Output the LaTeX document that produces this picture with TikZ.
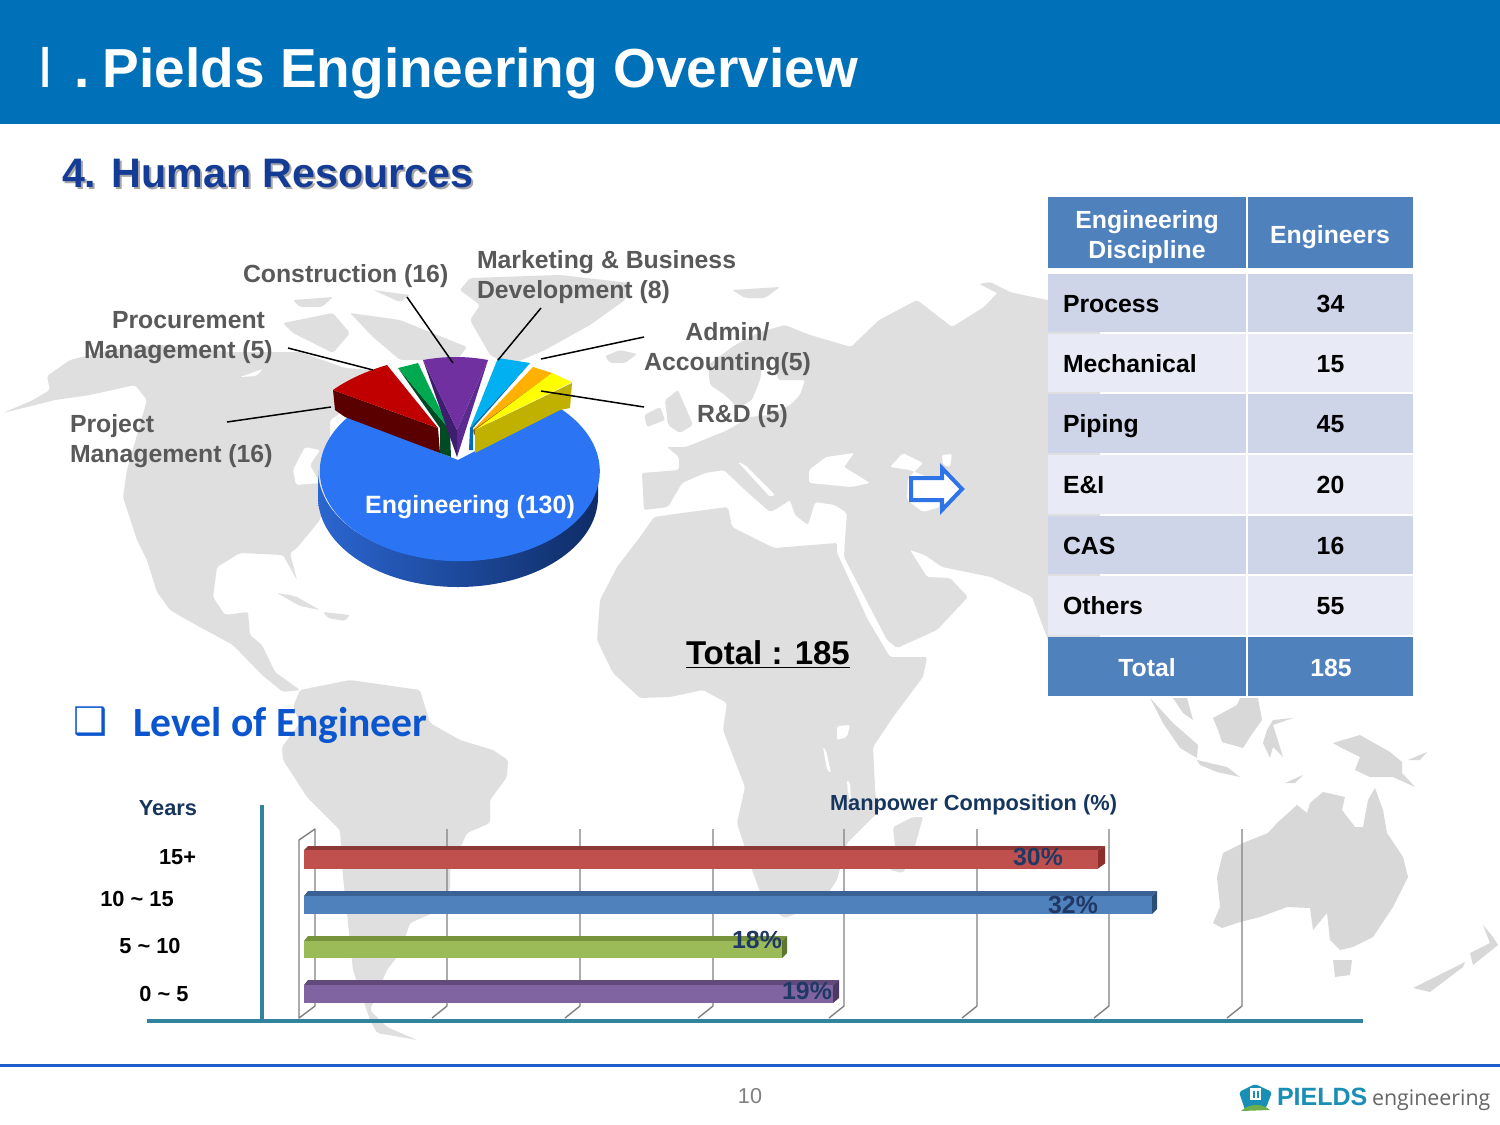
\documentclass[tikz,border=0pt]{standalone}
\usepackage{fontspec}
\setmainfont{Liberation Sans}
\newfontfamily\numfont{DejaVu Sans}
\newfontfamily\calfont{Carlito}
\newfontfamily\logofont{Open Sans}
\usetikzlibrary{calc,positioning}
\definecolor{headblue}{HTML}{0070B8}
\definecolor{subblue}{HTML}{143C96}
\definecolor{levelblue}{HTML}{0B55CF}
\definecolor{footblue}{HTML}{1F5FCC}
\definecolor{land}{HTML}{DFDFDF}
\definecolor{landdark}{HTML}{D8D8D8}
\definecolor{labelgray}{HTML}{595959}
\definecolor{navy}{HTML}{17365D}
\definecolor{pctnavy}{HTML}{1F3864}
\definecolor{teal}{HTML}{31849B}
\definecolor{gridgray}{HTML}{808080}
\definecolor{cellhead}{HTML}{4F81BD}
\definecolor{celldark}{HTML}{CFD5E8}
\definecolor{celllight}{HTML}{E8EBF5}
\definecolor{arrowblue}{HTML}{2F74E6}
\definecolor{cbRed}{HTML}{C0504D}
\definecolor{cbRedTop}{HTML}{8C3836}
\definecolor{cbRedSide}{HTML}{8C2E2C}
\definecolor{cbBlueTop}{HTML}{3A6193}
\definecolor{cbBlueSide}{HTML}{2C4D75}
\definecolor{cbGreen}{HTML}{9BBB59}
\definecolor{cbGreenTop}{HTML}{77933C}
\definecolor{cbGreenSide}{HTML}{5E7530}
\definecolor{cbPurple}{HTML}{8064A2}
\definecolor{cbPurpleTop}{HTML}{604A7B}
\definecolor{cbPurpleSide}{HTML}{4C3A63}
\definecolor{pieBlue}{HTML}{2B75F5}
\definecolor{pieBlueL}{HTML}{2B66D0}
\definecolor{pieBlueM}{HTML}{154290}
\definecolor{pieBlueR}{HTML}{0F2C66}
\definecolor{pieRed}{HTML}{C00000}
\definecolor{pieRedS}{HTML}{5A0000}
\definecolor{pieGreen}{HTML}{00A850}
\definecolor{pieGreenS}{HTML}{004A25}
\definecolor{piePurple}{HTML}{7030A0}
\definecolor{piePurpleL}{HTML}{3E1C70}
\definecolor{piePurpleR}{HTML}{5A2A90}
\definecolor{pieCyan}{HTML}{00B0F0}
\definecolor{pieCyanS}{HTML}{0070B0}
\definecolor{pieOrange}{HTML}{FFB000}
\definecolor{pieOrangeS}{HTML}{A06000}
\definecolor{pieYellow}{HTML}{FFFF00}
\definecolor{pieYellowS}{HTML}{C0B000}
\definecolor{logoTeal}{HTML}{1A8FB5}
\definecolor{logoGreen}{HTML}{6DB04B}
\definecolor{logoGray}{HTML}{666666}
\tikzset{
  mapland/.style={fill=land, rounded corners=1pt},
  maphole/.style={fill=white, rounded corners=1pt},
  txt/.style={inner sep=0pt, outer sep=0pt},
  pielabel/.style={txt, text=labelgray, font=\fontsize{12.4}{15}\selectfont\bfseries},
  leader/.style={black, line width=0.75pt},
  tablecell/.style={txt, text=black, font=\fontsize{12.4}{15}\selectfont\bfseries},
  tablehead/.style={txt, text=white, font=\fontsize{12.4}{15}\selectfont\bfseries, align=center},
  yearlabel/.style={txt, text=black, font=\fontsize{10.9}{13}\selectfont\bfseries},
  pctlabel/.style={txt, text=pctnavy, font=\fontsize{12.4}{15}\selectfont\bfseries},
  gridline/.style={gridgray, line width=0.7pt}
}
% bar: #1 front colour, #2 top colour, #3 side colour, #4 strip top y, #5 front top y, #6 bottom y, #7 front end x, #8 side end x
\newcommand{\ChartBar}[8]{%
  \fill[#2] (304,#5) -- (308,#4) -- (#8,#4) -- (#7,#5) -- cycle;
  \fill[#3] (#7,#5) -- (#8,#4) -- (#8,#6-5) -- (#7,#6) -- cycle;
  \fill[#1] (304,#5) rectangle (#7,#6);
}
\begin{document}
\begin{tikzpicture}[x=0.5pt, y=-0.5pt, line join=round]
  \useasboundingbox (0,0) rectangle (1500,1125);
  \fill[white] (0,0) rectangle (1500,1125);

  % world map
  % north america
  \fill[mapland] (3,413) -- (33,400) -- (50,390) -- (47,376) -- (70,360) -- (110,350) -- (160,345) -- (230,352) -- (262,352) -- (300,352) -- (345,368) -- (372,370) -- (360,400) -- (330,420) -- (330,480) -- (320,520) -- (297,548) -- (290,553) -- (297,580) -- (283,555) -- (240,553) -- (217,567) -- (213,597) -- (225,615) -- (248,612) -- (250,635) -- (262,645) -- (275,672) -- (300,690) -- (283,692) -- (262,675) -- (233,645) -- (187,620) -- (170,610) -- (157,592) -- (147,560) -- (137,540) -- (123,497) -- (127,470) -- (147,400) -- (135,385) -- (90,395) -- (55,400) -- cycle;
  \fill[maphole] (240,377) -- (263,369) -- (256,376) -- cycle;
  \fill[maphole] (293,470) -- (305,447) -- (320,450) -- (310,465) -- (320,483) -- (296,485) -- cycle;
  % arctic islands
  \fill[mapland] (283,323) -- (333,313) -- (350,333) -- (333,353) -- (293,333) -- cycle;
  \fill[mapland] (350,313) -- (400,320) -- (467,347) -- (457,360) -- (400,360) -- (373,337) -- cycle;
  \fill[mapland] (293,300) -- (333,297) -- (322,307) -- (300,307) -- cycle;
  \fill[mapland] (373,290) -- (410,295) -- (400,302) -- cycle;
  % greenland, iceland
  \fill[mapland] (460,290) -- (470,278) -- (560,275) -- (630,283) -- (625,300) -- (590,325) -- (545,350) -- (510,365) -- (490,355) -- (470,320) -- (480,305) -- cycle;
  \fill[mapland] (605,356) -- (620,350) -- (637,354) -- (625,363) -- (610,363) -- cycle;
  % caribbean
  \fill[mapland] (277,593) -- (295,596) -- (320,610) -- (300,606) -- cycle;
  \fill[mapland] (323,612) -- (350,615) -- (345,621) -- (328,618) -- cycle;
  % south america
  \fill[mapland] (300,690) -- (350,680) -- (420,690) -- (430,723) -- (460,740) -- (493,750) -- (508,760) -- (507,777) -- (490,800) -- (490,823) -- (467,833) -- (450,870) -- (450,890) -- (433,913) -- (410,923) -- (400,953) -- (387,970) -- (370,1010) -- (387,1027) -- (417,1040) -- (377,1033) -- (370,1020) -- (353,970) -- (348,923) -- (343,877) -- (340,830) -- (307,797) -- (283,760) -- (282,747) -- (300,723) -- (293,707) -- cycle;
  % eurasia
  \fill[mapland] (644,510) -- (642,473) -- (679,470) -- (679,457) -- (667,447) -- (686,447) -- (728,430) -- (749,417) -- (770,415) -- (790,405) -- (800,395) -- (805,380) -- (778,380) -- (775,362) -- (770,355) -- (763,362) -- (760,380) -- (752,400) -- (738,408) -- (725,395) -- (710,385) -- (708,365) -- (735,345) -- (760,332) -- (785,325) -- (810,335) -- (851,347) -- (879,320) -- (917,300) -- (952,327) -- (984,307) -- (1000,290) -- (1047,300) -- (1100,290) -- (1100,690) -- (1060,670) -- (1048,640) -- (1032,597) -- (991,577) -- (942,567) -- (925,555) -- (910,550) -- (927,577) -- (950,578) -- (968,597) -- (937,630) -- (897,648) -- (887,640) -- (844,557) -- (845,540) -- (847,513) -- (835,505) -- (815,502) -- (808,525) -- (795,515) -- (790,500) -- (778,508) -- (770,512) -- (745,490) -- (724,470) -- (705,473) -- (682,483) -- (668,507) -- cycle;
  \fill[maphole] (738,462) -- (745,465) -- (775,495) -- (770,497) -- cycle;
  \fill[maphole] (809,470) -- (826,457) -- (854,453) -- (844,467) -- (870,483) -- (851,487) -- (809,483) -- cycle;
  \fill[maphole] (890,467) -- (903,453) -- (923,463) -- (908,478) -- (907,500) -- (923,512) -- (940,507) -- (935,480) -- (910,470) -- cycle;
  \fill[maphole] (942,455) -- (952,454) -- (950,467) -- (943,465) -- cycle;
  % british isles, arctic russia
  \fill[mapland] (665,400) -- (678,390) -- (693,425) -- (680,433) -- (668,425) -- cycle;
  \fill[mapland] (644,415) -- (660,407) -- (665,420) -- (647,427) -- cycle;
  \fill[mapland] (732,290) -- (780,287) -- (765,298) -- (745,298) -- cycle;
  \fill[mapland] (979,284) -- (990,282) -- (1016,295) -- (1005,297) -- cycle;
  % africa
  \fill[mapland] (640,537) -- (654,517) -- (682,513) -- (728,507) -- (732,527) -- (774,548) -- (837,543) -- (837,553) -- (868,620) -- (890,657) -- (927,657) -- (923,677) -- (893,717) -- (873,747) -- (875,787) -- (877,813) -- (847,843) -- (837,880) -- (820,905) -- (785,918) -- (765,905) -- (753,873) -- (737,823) -- (745,787) -- (723,730) -- (727,703) -- (703,690) -- (670,697) -- (640,698) -- (613,673) -- (597,640) -- (600,600) -- (617,567) -- cycle;
  \fill[maphole] (837,726) -- (850,725) -- (847,737) -- (837,740) -- cycle;
  \fill[maphole] (823,747) -- (826,750) -- (831,773) -- (827,770) -- cycle;
  \fill[maphole] (847,780) -- (850,782) -- (851,800) -- (848,796) -- cycle;
  % madagascar
  \fill[mapland] (893,827) -- (913,817) -- (923,817) -- (913,853) -- (903,873) -- (890,870) -- (895,847) -- cycle;
  % south east asia
  \fill[landdark] (1150,698) -- (1173,723) -- (1198,745) -- (1197,758) -- (1180,748) -- (1163,723) -- cycle;
  \fill[landdark] (1173,698) -- (1187,698) -- (1193,720) -- (1183,713) -- cycle;
  \fill[landdark] (1213,718) -- (1237,705) -- (1240,698) -- (1258,698) -- (1262,720) -- (1250,737) -- (1243,748) -- (1222,742) -- (1218,730) -- cycle;
  \fill[landdark] (1197,760) -- (1227,767) -- (1240,777) -- (1217,772) -- (1200,765) -- cycle;
  \fill[landdark] (1267,730) -- (1273,720) -- (1293,718) -- (1273,725) -- (1283,757) -- (1273,747) -- (1270,758) -- (1263,743) -- cycle;
  \fill[landdark] (1285,783) -- (1303,775) -- (1295,783) -- cycle;
  \fill[landdark] (1333,743) -- (1360,735) -- (1390,752) -- (1402,762) -- (1402,773) -- (1415,787) -- (1393,777) -- (1370,777) -- (1355,770) -- (1360,757) -- (1340,747) -- cycle;
  \fill[landdark] (1408,760) -- (1427,752) -- (1420,760) -- cycle;
  % australia, new zealand
  \fill[landdark] (1213,923) -- (1222,928) -- (1240,922) -- (1260,917) -- (1287,907) -- (1310,908) -- (1313,930) -- (1327,913) -- (1330,940) -- (1340,950) -- (1353,947) -- (1373,937) -- (1393,907) -- (1408,877) -- (1403,857) -- (1387,833) -- (1383,810) -- (1375,788) -- (1368,800) -- (1363,827) -- (1355,827) -- (1342,810) -- (1345,797) -- (1323,792) -- (1310,803) -- (1307,813) -- (1297,805) -- (1277,823) -- (1268,833) -- (1243,843) -- (1223,853) -- (1217,877) -- (1220,907) -- cycle;
  \fill[landdark] (1333,960) -- (1352,960) -- (1350,975) -- (1335,977) -- cycle;
  \fill[landdark] (1413,988) -- (1465,962) -- (1463,967) -- (1430,992) -- cycle;
  \fill[landdark] (1470,953) -- (1490,943) -- (1483,925) -- (1493,937) -- (1498,945) -- (1473,965) -- cycle;

  % header band
  \fill[headblue] (0,0) rectangle (1500,124);
  \node[txt, anchor=base west, text=white, font=\fontsize{27.5}{30}\selectfont\bfseries] (slideTitle) at (37,87) {{\numfont\mdseries Ⅰ}\hspace{10.5pt}.\hspace{-3.5pt} Pields Engineering Overview};
  \node[txt, anchor=base west, text=subblue, font=\fontsize{20.6}{24}\selectfont\bfseries] (sectionTitle) at (62,187) {\rlap{\hspace{1pt}\raisebox{-1pt}{\textcolor{gray!70}{4. Human Resources}}}4. Human Resources};

  % pie, engineering slice
  \shade[left color=pieBlueL, middle color=pieBlueM, right color=pieBlueR] (318,470) arc[start angle=180, end angle=360, x radius=70pt, y radius=45pt] -- (598,497) arc[start angle=360, end angle=180, x radius=70pt, y radius=45pt] -- cycle;
  \fill[pieBlue] (458,460) -- (348,417) arc[start angle=143, end angle=405, x radius=70pt, y radius=45pt] -- cycle;
  % project management
  \fill[pieRedS] (333,390) -- (335,410) -- (345,417) -- (440,453) -- (438,428) -- cycle;
  \fill[pieRed] (333,390) .. controls (350,378) and (370,370) .. (387,365) -- (438,428) -- cycle;
  % procurement
  \fill[pieGreenS] (398,368) -- (450,430) -- (451,457) -- (440,453) -- (440,428) -- cycle;
  \fill[pieGreen] (398,368) -- (418,363) -- (450,430) -- cycle;
  % construction
  \fill[piePurpleL] (423,360) -- (457,430) -- (457,457) -- cycle;
  \fill[piePurpleR] (488,360) -- (457,430) -- (457,457) -- cycle;
  \fill[piePurple] (423,360) .. controls (445,356) and (467,356) .. (488,360) -- (457,430) -- cycle;
  % marketing
  \fill[pieCyanS] (530,363) -- (470,428) -- (469,450) -- (473,450) -- (473,428) -- cycle;
  \fill[pieCyan] (498,358) -- (530,363) -- (470,428) -- cycle;
  % admin
  \fill[pieOrangeS] (552,373) -- (473,430) -- (474,435) -- cycle;
  \fill[pieOrange] (533,367) -- (552,373) -- (473,430) -- cycle;
  % r and d
  \fill[pieYellowS] (572,383) -- (570,408) -- (560,410) -- (475,453) -- (475,430) -- cycle;
  \fill[pieYellow] (552,373) -- (572,382) -- (475,430) -- cycle;

  \node[txt, text=white, font=\fontsize{12.5}{15}\selectfont\bfseries] (pieEngineering) at (470,507) {Engineering (130)};

  % pie labels
  \node[pielabel, anchor=west] (lblConstruction) at (243,276.5) {Construction (16)};
  \node[pielabel, anchor=west, align=left] (lblProcurement) at (84,338) {\hspace*{14pt}Procurement\\Management (5)};
  \node[pielabel, anchor=west, align=left] (lblProject) at (70,441.5) {Project\\Management (16)};
  \node[pielabel, anchor=west, align=left] (lblMarketing) at (477,277) {Marketing \& Business\\Development (8)};
  \node[pielabel, align=center] (lblAdmin) at (727.5,349) {Admin/\\Accounting(5)};
  \node[pielabel, anchor=west] (lblRnd) at (697,416.5) {R\&D (5)};

  % leader lines
  \coordinate (ldConA) at (407,297);
  \coordinate (ldConB) at (453,363);
  \coordinate (ldProcA) at (288,348);
  \coordinate (ldProcB) at (373,370);
  \coordinate (ldProjA) at (227,422);
  \coordinate (ldProjB) at (331,407);
  \coordinate (ldMktA) at (541,308);
  \coordinate (ldMktB) at (498,360);
  \coordinate (ldAdmA) at (644,337);
  \coordinate (ldAdmB) at (541,359);
  \coordinate (ldRndA) at (644,407);
  \coordinate (ldRndB) at (541,391);
  \foreach \a/\b in {ldConA/ldConB, ldProcA/ldProcB, ldProjA/ldProjB, ldMktA/ldMktB, ldAdmA/ldAdmB, ldRndA/ldRndB}
    \draw[leader] (\a) -- (\b);

  % arrow to table
  \draw[arrowblue, fill=white, line width=2pt, line join=miter, miter limit=10] (911,478) -- (942,478) -- (942,468) -- (962,489) -- (942,510) -- (942,500) -- (911,500) -- cycle;

  % table
  \fill[cellhead] (1048,197) rectangle (1246,268);
  \fill[cellhead] (1248,197) rectangle (1413,268);
  \node[tablehead] (headDiscipline) at (1147,237) {Engineering\\Discipline};
  \node[tablehead] (headEngineers) at (1330,237) {Engineers};
  \foreach \rowname/\rowval/\rowtop/\rowbot/\rowfill in {%
      Process/34/274/332/celldark,
      Mechanical/15/334/392/celllight,
      Piping/45/394/453/celldark,
      E\&I/20/455/514/celllight,
      CAS/16/516/574/celldark,
      Others/55/576/635/celllight}{
    \fill[\rowfill] (1048,\rowtop) rectangle (1246,\rowbot);
    \fill[\rowfill] (1248,\rowtop) rectangle (1413,\rowbot);
    \node[tablecell, anchor=base west] (row\rowval) at (1063,{(\rowtop+\rowbot)/2+9}) {\rowname};
    \node[tablecell, anchor=base] (val\rowval) at (1330.5,{(\rowtop+\rowbot)/2+9}) {\rowval};
  }
  \fill[cellhead] (1048,637) rectangle (1246,696);
  \fill[cellhead] (1248,637) rectangle (1413,696);
  \node[tablecell, text=white, anchor=base] (rowTotal) at (1147,676.5) {Total};
  \node[tablecell, text=white, anchor=base] (valTotal) at (1331,676.5) {185};

  \node[txt, anchor=base west, text=black, font=\fontsize{16.5}{18}\selectfont\bfseries] (grandTotal) at (686,664) {\underline{Total : 185}};

  % level of engineer
  \node[txt, text=levelblue, font=\fontsize{19}{22}\selectfont\numfont\bfseries] (levelBox) at (91,722) {❑};
  \node[txt, anchor=base west, text=levelblue, font=\fontsize{20.8}{24}\selectfont\calfont\bfseries] (levelTitle) at (133,736) {Level of Engineer};

  % chart grid
  \draw[gridline] (299,1018) -- (299,840) -- (315,829) -- (315,1006) -- cycle;
  \foreach \gx in {447,580,713,844,977,1109,1242}
    \draw[gridline] (\gx,829) -- (\gx,1006) -- (\gx-15,1018);

  % chart axes
  \draw[teal, line width=2.2pt] (262,805) -- (262,1021);
  \draw[teal, line width=2.2pt] (147,1021) -- (1363,1021);

  % bars
  \ChartBar{cbRed}{cbRedTop}{cbRedSide}{846}{850}{868.5}{1098}{1105}
  \ChartBar{cellhead}{cbBlueTop}{cbBlueSide}{891}{896}{914}{1152}{1157}
  \ChartBar{cbGreen}{cbGreenTop}{cbGreenSide}{936}{941}{958}{782}{787}
  \ChartBar{cbPurple}{cbPurpleTop}{cbPurpleSide}{980}{985}{1003}{833}{839}

  \node[txt, text=navy, font=\fontsize{10.9}{13}\selectfont\bfseries] (axisYears) at (168,808) {Years};
  \node[txt, text=navy, font=\fontsize{10.9}{13}\selectfont\bfseries, anchor=west] (axisComposition) at (830,804.5) {Manpower Composition (\%)};
  \node[yearlabel] (yrOne) at (177.5,857) {15+};
  \node[yearlabel] (yrTwo) at (137,899) {10 \textasciitilde{} 15};
  \node[yearlabel] (yrThree) at (150,946) {5 \textasciitilde{} 10};
  \node[yearlabel] (yrFour) at (164,994) {0 \textasciitilde{} 5};
  \node[pctlabel] (pctOne) at (1038,857) {30\%};
  \node[pctlabel] (pctTwo) at (1073,905) {32\%};
  \node[pctlabel] (pctThree) at (757,940) {18\%};
  \node[pctlabel] (pctFour) at (807,991) {19\%};

  % footer
  \draw[footblue, line width=1.5pt] (0,1065) -- (1500,1065);
  \node[txt, text=gray, font=\fontsize{10.8}{13}\selectfont] (pageNo) at (750,1096) {10};
  \fill[logoTeal, rounded corners=1pt] (1239,1092) -- (1255,1084) -- (1272,1092) -- (1266,1108) -- (1245,1110) -- cycle;
  \fill[white] (1250,1088) rectangle (1261,1100);
  \fill[logoTeal] (1253,1091) rectangle (1255,1098);
  \fill[logoTeal] (1257,1091) rectangle (1259,1098);
  \fill[logoGreen] (1241,1111) .. controls (1250,1103) and (1262,1103) .. (1270,1110) -- cycle;
  \node[txt, anchor=base west, text=logoTeal, font=\fontsize{12.5}{15}\selectfont\bfseries] (logoName) at (1277,1105) {PIELDS};
  \node[txt, anchor=base west, text=logoGray, font=\fontsize{10.7}{13}\selectfont\logofont] (logoWord) at (1372,1105) {engineering};
\end{tikzpicture}
\end{document}
